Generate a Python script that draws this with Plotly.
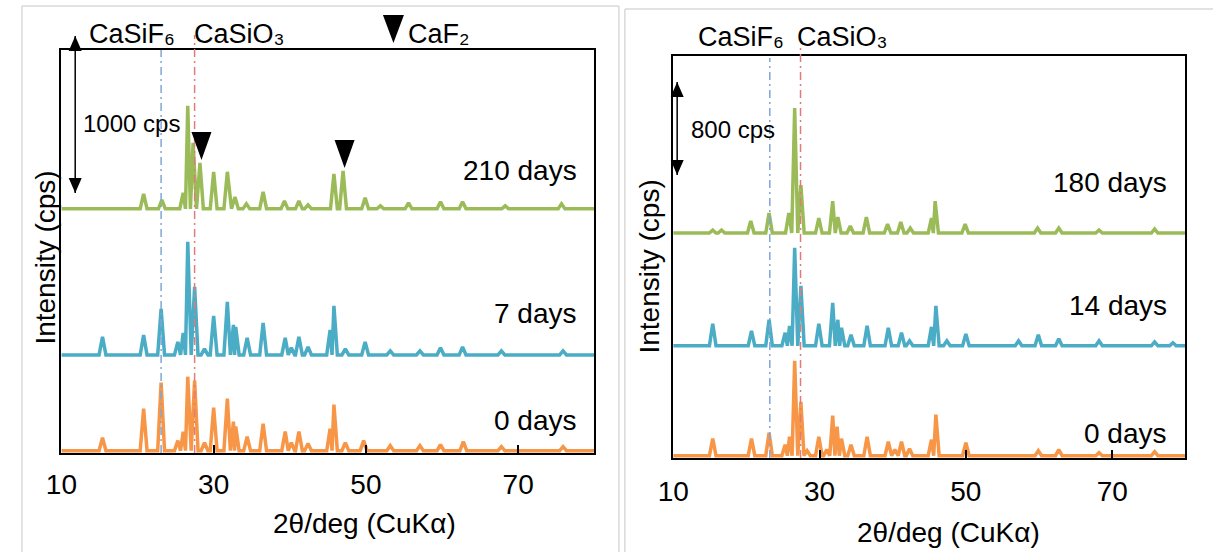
import plotly.graph_objects as go

W, H = 1213, 552
FONT = "Liberation Sans, Arial, sans-serif"

# ---------------- data ----------------
# Left panel: intensity above each pattern's own baseline (cps)
L0_pos = [15.4, 20.8, 23.1, 25.3, 26.0, 26.6, 27.5, 28.8, 30.0, 31.8, 32.6, 32.9, 34.4, 36.5,
          39.4, 40.2, 41.2, 42.4, 45.3, 45.8, 47.3, 49.7, 53.2, 57.1, 59.8, 62.8, 67.8, 75.9]
L0_int = [83, 268, 433, 64, 121, 471, 446, 51, 274, 331, 185, 153, 89, 172,
          121, 51, 121, 45, 140, 293, 51, 64, 32, 32, 38, 57, 25, 25]

L7_pos = [15.4, 20.8, 23.1, 25.3, 26.0, 26.6, 27.5, 28.8, 30.0, 31.8, 32.6, 32.9, 34.4, 36.5,
          39.4, 40.2, 41.2, 42.4, 45.3, 45.8, 47.3, 49.9, 53.2, 57.1, 59.8, 62.7, 67.8, 75.9]
L7_int = [115, 127, 293, 83, 140, 720, 433, 38, 248, 338, 191, 178, 108, 204,
          108, 45, 115, 51, 159, 312, 38, 83, 25, 25, 45, 51, 25, 25]

L210_pos = [20.8, 23.2, 26.0, 26.6, 27.3, 28.2, 30.0, 31.8, 32.8, 34.3, 36.5, 39.3, 41.2, 42.4,
            45.8, 47.0, 49.9, 51.9, 55.6, 59.8, 62.7, 68.3, 75.7]
L210_int = [96, 57, 102, 656, 420, 293, 236, 236, 76, 32, 108, 51, 51, 25,
            223, 242, 70, 19, 38, 45, 45, 19, 32]

left_offsets = [0, 610, 1540]          # stacking offsets (cps)
left_labels = ["0 days", "7 days", "210 days"]

# Right panel
R0_pos = [15.4, 20.7, 23.1, 25.3, 25.9, 26.6, 27.45, 28.3, 29.9, 31.0, 31.8, 32.4, 33.0, 34.3,
          36.5, 39.4, 40.3, 41.2, 42.3, 45.3, 45.9, 50.0, 59.9, 62.7, 68.2, 75.8]
R0_int = [146, 146, 198, 95, 163, 817, 464, 43, 163, 52, 344, 249, 146, 95,
          163, 120, 52, 120, 60, 138, 353, 112, 43, 52, 26, 34]

R14_pos = [15.4, 20.7, 23.1, 25.3, 25.9, 26.6, 27.45, 29.9, 31.8, 32.5, 33.0, 34.3, 36.5, 39.4,
           41.2, 42.3, 45.3, 45.9, 47.4, 50.0, 57.2, 59.9, 62.7, 68.2, 75.8, 78.3]
R14_int = [189, 129, 224, 112, 172, 843, 516, 189, 370, 224, 155, 95, 172, 155,
           112, 43, 163, 344, 43, 103, 43, 95, 60, 43, 34, 26]

R180_pos = [15.4, 16.6, 20.6, 23.1, 25.8, 26.6, 27.45, 29.9, 31.8, 32.5, 34.2, 36.4, 39.3, 41.1,
            42.4, 45.3, 45.8, 49.9, 59.8, 62.7, 68.2, 75.8]
R180_int = [26, 26, 103, 172, 172, 1075, 413, 129, 275, 138, 60, 138, 77, 95,
            43, 129, 275, 77, 43, 43, 26, 34]

right_offsets = [0, 945, 1915]
right_labels = ["0 days", "14 days", "180 days"]

# reference phase lines (2θ)
casif6_left, casio3_left = 23.1, 27.5
casif6_right, casio3_right = 23.2, 27.4
# CaF2 markers on the 210-day pattern (2θ, cps incl. offset)
caf2_pos = [28.4, 47.2]
caf2_tip = [1851, 1800]
# scale bars (cps)
left_bar = 1000
right_bar = 800

X_MIN, X_MAX = 10, 80
xticks = [10, 30, 50, 70]

colors = ["#F79646", "#4BACC6", "#9BBB59"]


def profile(pos, inten, offset, w=0.45):
    xs, ys = [X_MIN], [offset]
    n = len(pos)
    for i in range(n):
        p, h = pos[i], inten[i]
        left = p - w
        if i > 0:
            left = max(left, (pos[i - 1] + p) / 2)
        right = p + w
        if i < n - 1:
            right = min(right, (pos[i + 1] + p) / 2)
        xs += [left, p, right]
        ys += [offset, offset + h, offset]
    xs.append(X_MAX)
    ys.append(offset)
    return xs, ys


fig = go.Figure()

left_sets = [(L0_pos, L0_int), (L7_pos, L7_int), (L210_pos, L210_int)]
right_sets = [(R0_pos, R0_int), (R14_pos, R14_int), (R180_pos, R180_int)]

for (p, i), off, c in zip(left_sets, left_offsets, colors):
    xs, ys = profile(p, i, off)
    fig.add_trace(go.Scatter(x=xs, y=ys, mode="lines", line=dict(color=c, width=3.5),
                             xaxis="x", yaxis="y", showlegend=False, hoverinfo="skip"))
for (p, i), off, c in zip(right_sets, right_offsets, colors):
    xs, ys = profile(p, i, off)
    fig.add_trace(go.Scatter(x=xs, y=ys, mode="lines", line=dict(color=c, width=3.5),
                             xaxis="x2", yaxis="y2", showlegend=False, hoverinfo="skip"))

# pixel geometry of the two plot areas
LX0, LX1, LY0, LY1 = 46, 586, 50, 453
RX0, RX1, RY0, RY1 = 666, 1185, 56, 458
L_PX_PER_CPS = 0.157
R_PX_PER_CPS = 0.11625
l_ymin = -15
r_ymin = -20
l_ymax = l_ymin + (LY1 - LY0) / L_PX_PER_CPS
r_ymax = r_ymin + (RY1 - RY0) / R_PX_PER_CPS


def px(x):
    return x / W


def py(y):
    return 1 - y / H


axis_common = dict(showline=True, mirror=True, linecolor="black", linewidth=1.5,
                   showgrid=False, zeroline=False)

fig.update_layout(
    width=W, height=H, margin=dict(l=0, r=0, t=0, b=0),
    paper_bgcolor="white", plot_bgcolor="white",
    font=dict(family=FONT, color="black", size=28),
    xaxis=dict(domain=[px(LX0), px(LX1)], range=[X_MIN, X_MAX], anchor="y",
               tickvals=xticks, ticks="inside", ticklen=8, tickwidth=1.5, tickcolor="black",
               tickfont=dict(size=28, family=FONT, color="black"), ticklabelstandoff=6,
               **axis_common),
    yaxis=dict(domain=[py(LY1), py(LY0)], range=[l_ymin, l_ymax], anchor="x",
               showticklabels=False, ticks="", **axis_common),
    xaxis2=dict(domain=[px(RX0), px(RX1)], range=[X_MIN, X_MAX], anchor="y2",
                tickvals=xticks, ticks="inside", ticklen=8, tickwidth=1.5, tickcolor="black",
                tickfont=dict(size=28, family=FONT, color="black"), ticklabelstandoff=8,
                **axis_common),
    yaxis2=dict(domain=[py(RY1), py(RY0)], range=[r_ymin, r_ymax], anchor="x2",
                showticklabels=False, ticks="", **axis_common),
)

shapes = []
# chart-area frames
frame = dict(color="#D9D9D9", width=1.5)
shapes += [
    dict(type="line", xref="paper", yref="paper", x0=px(6), x1=px(6), y0=py(6), y1=py(560), line=frame),
    dict(type="line", xref="paper", yref="paper", x0=px(6), x1=px(611), y0=py(6), y1=py(6), line=frame),
    dict(type="line", xref="paper", yref="paper", x0=px(611), x1=px(611), y0=py(6), y1=py(560), line=frame),
    dict(type="line", xref="paper", yref="paper", x0=px(617), x1=px(617), y0=py(9), y1=py(560), line=frame),
    dict(type="line", xref="paper", yref="paper", x0=px(617), x1=px(1220), y0=py(9), y1=py(9), line=frame),
]
# phase reference lines
dash = "8px,4px,2px,4px"
shapes += [
    dict(type="line", xref="x", yref="paper", x0=casif6_left, x1=casif6_left, y0=py(LY1), y1=py(50),
         line=dict(color="#7EA6D8", width=1.5, dash=dash), layer="above"),
    dict(type="line", xref="x", yref="paper", x0=casio3_left, x1=casio3_left, y0=py(LY1), y1=py(35),
         line=dict(color="#E07B7B", width=1.5, dash=dash), layer="above"),
    dict(type="line", xref="x2", yref="paper", x0=casif6_right, x1=casif6_right, y0=py(RY1), y1=py(58),
         line=dict(color="#7EA6D8", width=1.5, dash=dash), layer="above"),
    dict(type="line", xref="x2", yref="paper", x0=casio3_right, x1=casio3_right, y0=py(RY1), y1=py(48),
         line=dict(color="#E07B7B", width=1.5, dash=dash), layer="above"),
]
# CaF2 triangles on the pattern
tri = "M -10,28 L 10,28 L 0,0 Z"
for xp, yt in zip(caf2_pos, caf2_tip):
    shapes.append(dict(type="path", xref="x", yref="y", xsizemode="pixel", ysizemode="pixel",
                       xanchor=xp, yanchor=yt, path=tri, fillcolor="black", line=dict(width=0)))
# legend triangle
shapes.append(dict(type="path", xref="paper", yref="paper", xsizemode="pixel", ysizemode="pixel",
                   xanchor=px(382.5), yanchor=py(43), path="M -10.5,28 L 10.5,28 L 0,0 Z",
                   fillcolor="black", line=dict(width=0)))


# scale bars: double-headed arrows whose length is the bar value on each y scale
def data_to_paper_y(v, ymin, y_bottom_px, px_per_cps):
    return py(y_bottom_px - (v - ymin) * px_per_cps)


def add_bar(x_px, top_val, length, ymin, ybot, k):
    yt = data_to_paper_y(top_val, ymin, ybot, k)
    yb = data_to_paper_y(top_val - length, ymin, ybot, k)
    shapes.append(dict(type="line", xref="paper", yref="paper", x0=px(x_px), x1=px(x_px),
                       y0=yb, y1=yt, line=dict(color="black", width=1.5)))
    shapes.append(dict(type="path", xref="paper", yref="paper", xsizemode="pixel", ysizemode="pixel",
                       xanchor=px(x_px), yanchor=yt, path="M -6.5,-15 L 6.5,-15 L 0,0 Z",
                       fillcolor="black", line=dict(width=0)))
    shapes.append(dict(type="path", xref="paper", yref="paper", xsizemode="pixel", ysizemode="pixel",
                       xanchor=px(x_px), yanchor=yb, path="M -6.5,15 L 6.5,15 L 0,0 Z",
                       fillcolor="black", line=dict(width=0)))


l_bar_top = l_ymin + (LY1 - 36) / L_PX_PER_CPS
r_bar_top = r_ymin + (RY1 - 82) / R_PX_PER_CPS
add_bar(60, l_bar_top, left_bar, l_ymin, LY1, L_PX_PER_CPS)
add_bar(670, r_bar_top, right_bar, r_ymin, RY1, R_PX_PER_CPS)

fig.update_layout(shapes=shapes)

ann = []


def text(x, y, s, size=28, xanchor="center", angle=0):
    ann.append(dict(x=px(x), y=py(y), xref="paper", yref="paper", text=s, showarrow=False,
                    xanchor=xanchor, yanchor="middle", textangle=angle,
                    font=dict(size=size, family=FONT, color="black")))


# day labels
for lab, yy in zip(left_labels, [420, 313, 170]):
    text(571, yy, lab, xanchor="right")
for lab, yy in zip(right_labels, [433, 305, 182]):
    text(1168, yy, lab, xanchor="right")

# compound labels
text(72, 34, "CaSiF₆", 27, xanchor="left")
text(178, 34, "CaSiO₃", 27, xanchor="left")
text(395, 34, "CaF₂", 27, xanchor="left")
text(689, 37, "CaSiF₆", 27, xanchor="left")
text(789, 37, "CaSiO₃", 27, xanchor="left")

# scale bar texts
text(66, 123, f"{left_bar} cps", 24, xanchor="left")
text(682, 130, f"{right_bar} cps", 24, xanchor="left")

# axis titles
text(353, 523, "2θ/deg (CuKα)", 28)
text(945, 532, "2θ/deg (CuKα)", 28)
text(29, 258, "Intensity (cps)", 28, angle=-90)
text(641, 267, "Intensity (cps)", 28, angle=-90)

fig.update_layout(annotations=ann)
fig.write_html("out.html")
